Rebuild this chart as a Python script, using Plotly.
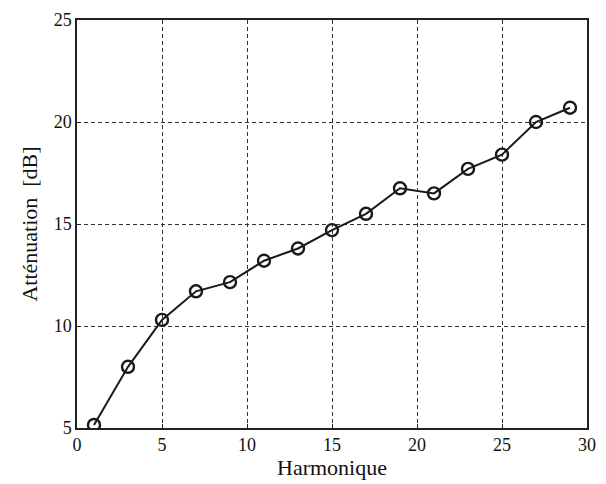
import plotly.graph_objects as go

harmonique = [1, 3, 5, 7, 9, 11, 13, 15, 17, 19, 21, 23, 25, 27, 29]
attenuation = [5.15, 8.0, 10.3, 11.7, 12.15, 13.2, 13.8, 14.7, 15.5, 16.75, 16.5, 17.7, 18.4, 20.0, 20.7]

x_ticks = [0, 5, 10, 15, 20, 25, 30]
y_ticks = [5, 10, 15, 20, 25]

fig = go.Figure()
fig.add_trace(go.Scatter(
    x=harmonique, y=attenuation, mode="lines+markers",
    line=dict(color="#1a1a1a", width=2),
    marker=dict(symbol="circle-open", size=12, color="#1a1a1a", line=dict(width=2.4)),
    showlegend=False,
))

font = dict(family="Liberation Serif", color="#111111")
axis_common = dict(
    showline=True, linecolor="#222222", linewidth=1.5, mirror=True,
    showgrid=True, gridcolor="#333333", griddash="4px,3px", gridwidth=1.2,
    zeroline=False, ticks="inside", ticklen=4, tickcolor="#222222",
    tickfont=dict(family="Liberation Serif", size=18, color="#111111"),
)

fig.update_xaxes(range=[0, 30], tickvals=x_ticks,
                 title=dict(text="Harmonique", font=dict(size=22, **font), standoff=2),
                 **axis_common)
fig.update_yaxes(range=[5, 25], tickvals=y_ticks,
                 title=dict(text="Atténuation  [dB]", font=dict(size=22, **font), standoff=10),
                 **axis_common)

fig.update_layout(
    width=606, height=484,
    margin=dict(l=77, r=10, t=18, b=56),
    plot_bgcolor="white", paper_bgcolor="white",
    font=font,
)

fig.write_html("out.html")
